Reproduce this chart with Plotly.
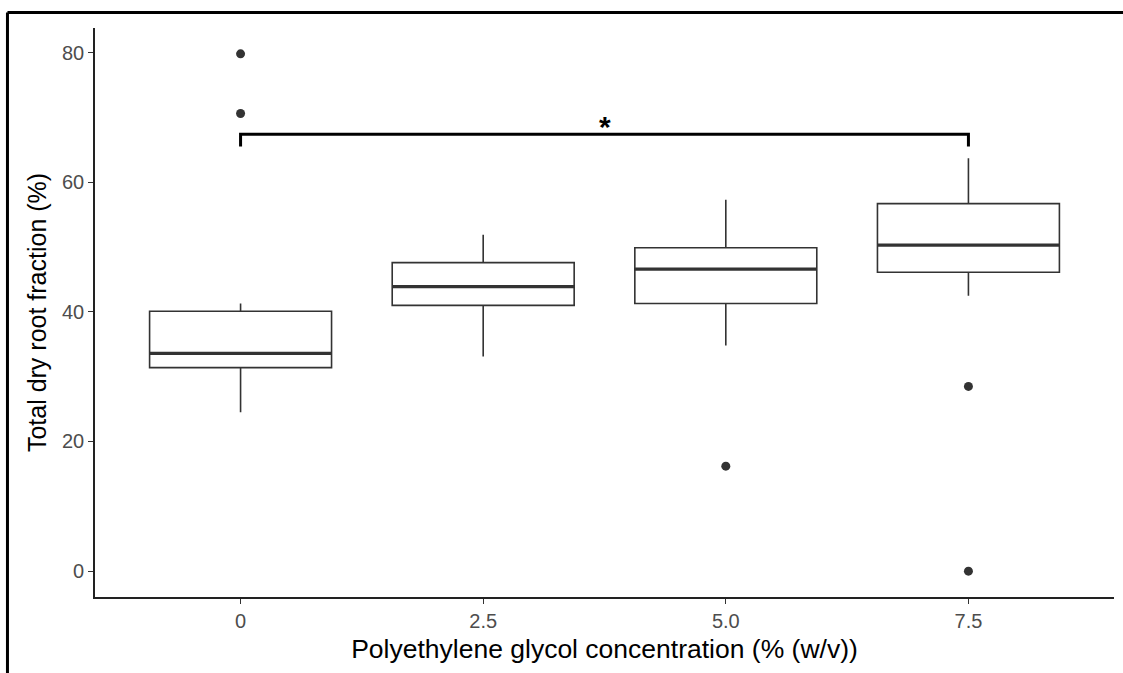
import plotly.graph_objects as go

# ---- data ----
categories = ["0", "2.5", "5.0", "7.5"]
q1 = [31.4, 41.0, 41.3, 46.1]
median = [33.6, 43.9, 46.6, 50.3]
q3 = [40.1, 47.6, 49.9, 56.7]
lower_whisker = [24.5, 33.1, 34.8, 42.5]
upper_whisker = [41.3, 51.9, 57.3, 63.7]
outlier_group = [0, 0, 2, 3, 3]
outlier_value = [79.8, 70.6, 16.2, 28.5, 0.0]
bracket_groups = [0, 3]
bracket_top = 67.4
bracket_tip = 65.5
bracket_label = "*"

box_width = 0.75
xpos = list(range(len(categories)))

fig = go.Figure()

fig.add_trace(go.Box(
    x=xpos, q1=q1, median=median, q3=q3,
    lowerfence=lower_whisker, upperfence=upper_whisker,
    width=box_width, fillcolor="white",
    line=dict(color="#333333", width=1.6),
    boxpoints=False, whiskerwidth=0, showlegend=False, hoverinfo="skip",
))

# thicker median lines
mx, my = [], []
for i, m in zip(xpos, median):
    mx += [i - box_width / 2, i + box_width / 2, None]
    my += [m, m, None]
fig.add_trace(go.Scatter(x=mx, y=my, mode="lines",
                         line=dict(color="#333333", width=3.2),
                         showlegend=False, hoverinfo="skip"))

fig.add_trace(go.Scatter(x=outlier_group, y=outlier_value, mode="markers",
                         marker=dict(color="#333333", size=9),
                         showlegend=False, hoverinfo="skip"))

# significance bracket
g0, g1 = bracket_groups
fig.add_trace(go.Scatter(x=[g0, g0, g1, g1],
                         y=[bracket_tip, bracket_top, bracket_top, bracket_tip],
                         mode="lines", line=dict(color="black", width=3),
                         showlegend=False, hoverinfo="skip"))
fig.add_annotation(x=(g0 + g1) / 2, y=bracket_top, text="<b>" + bracket_label + "</b>",
                   showarrow=False, yanchor="bottom", yshift=-11,
                   font=dict(size=30, color="black", family="Liberation Sans"))

# outer frame (top and left)
fig.add_shape(type="line", xref="paper", yref="paper",
              x0=-0.0859, x1=1.02, y0=1.0272, y1=1.0272,
              line=dict(color="black", width=3))
fig.add_shape(type="line", xref="paper", yref="paper",
              x0=-0.0859, x1=-0.0859, y0=1.0272, y1=-0.2,
              line=dict(color="black", width=3))

fig.update_layout(
    width=1123, height=673,
    margin=dict(l=95, r=9, t=28, b=76),
    paper_bgcolor="white", plot_bgcolor="white",
    font=dict(family="Liberation Sans", color="black"),
    xaxis=dict(
        range=[-0.6, len(categories) - 0.4],
        tickvals=xpos, ticktext=categories,
        showgrid=False, zeroline=False,
        showline=True, linecolor="#222222", linewidth=1.6,
        ticks="outside", ticklen=5, tickcolor="#333333", tickwidth=1.4,
        tickfont=dict(size=20, color="#4d4d4d"),
        title=dict(text="Polyethylene glycol concentration (% (w/v))",
                   font=dict(size=26.5, color="black"), standoff=9),
    ),
    yaxis=dict(
        range=[-3.99, 83.79],
        tickvals=[0, 20, 40, 60, 80],
        showgrid=False, zeroline=False,
        showline=True, linecolor="#222222", linewidth=1.6,
        ticks="outside", ticklen=5, tickcolor="#333333", tickwidth=1.4,
        tickfont=dict(size=20, color="#4d4d4d"),
        title=dict(text="Total dry root fraction (%)",
                   font=dict(size=25, color="black"), standoff=8),
    ),
)

fig.write_html("out.html")
